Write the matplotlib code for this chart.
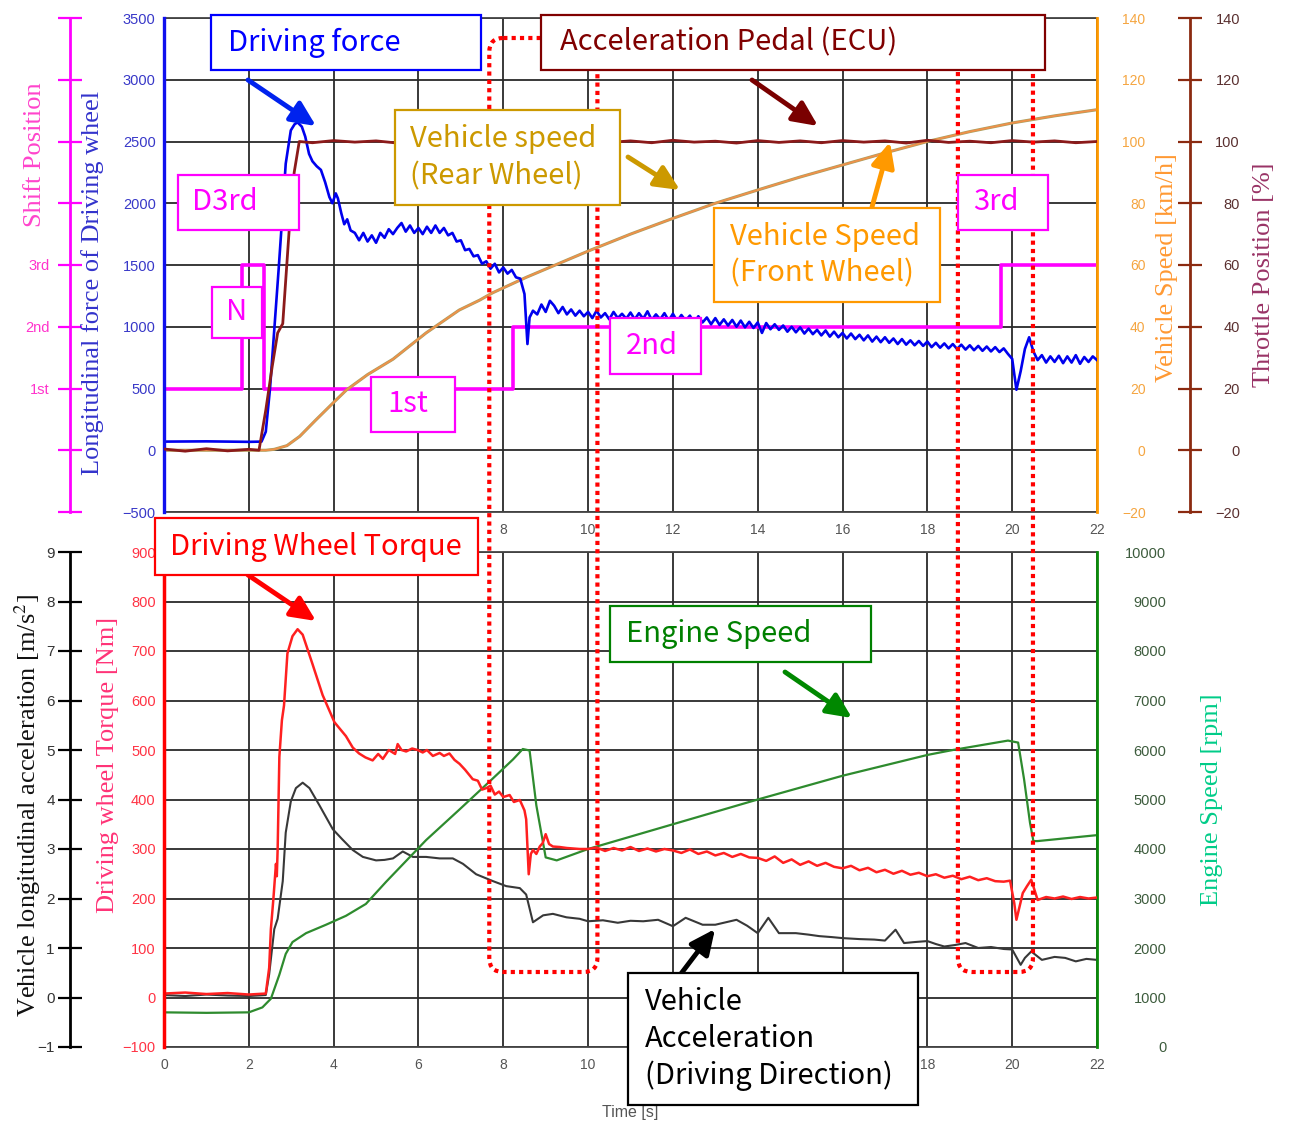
import matplotlib.pyplot as plt
import numpy as np
from matplotlib.patches import Rectangle, FancyBboxPatch, FancyArrowPatch
from matplotlib.transforms import Affine2D

# ---------------- data ----------------
# top panel
shift_time = [0.0, 1.84, 2.36, 8.24, 19.73, 22.0]
shift_gear = [1, 3, 1, 2, 3, 3]          # 1st / 2nd / 3rd (N drawn at 3rd level)

force_time_head = [0.0, 1.0, 2.0, 2.3, 2.4, 2.5, 2.6, 2.7, 2.78, 2.87, 2.99, 3.08, 3.15, 3.25,
                   3.33, 3.42, 3.5, 3.6, 3.7, 3.8, 3.9, 3.97, 4.05, 4.1, 4.18, 4.25, 4.32, 4.4,
                   4.5, 4.6, 4.7, 4.8, 4.9, 5.0, 5.1, 5.2, 5.3, 5.4, 5.5, 5.6, 5.7, 5.8, 5.9,
                   6.0, 6.1, 6.2, 6.3, 6.4, 6.5, 6.6, 6.7, 6.8, 6.9, 7.0, 7.1, 7.2, 7.3, 7.4,
                   7.5, 7.6, 7.7, 7.8, 7.9, 8.0, 8.1, 8.2, 8.3, 8.4, 8.5, 8.57, 8.62, 8.7,
                   8.8, 8.9, 9.0, 9.1]
force_head = [70, 72, 68, 70, 150, 500, 970, 1450, 1850, 2320, 2590, 2640, 2655, 2620,
              2540, 2400, 2340, 2300, 2270, 2170, 2050, 2000, 2080, 2040, 1920, 1830, 1870, 1780,
              1760, 1700, 1760, 1690, 1740, 1680, 1760, 1720, 1790, 1750, 1800, 1840, 1770, 1820, 1760,
              1800, 1750, 1810, 1760, 1820, 1760, 1800, 1740, 1760, 1690, 1700, 1620, 1630, 1570, 1580,
              1510, 1530, 1470, 1510, 1440, 1480, 1430, 1460, 1400, 1390, 1265, 860, 1075, 1130,
              1100, 1180, 1120, 1210]
force_time_tail = np.arange(9.2, 22.01, 0.1)
force_tail = [1170, 1110, 1160, 1100, 1140, 1090, 1130, 1085,
              1120, 1070, 1130, 1075, 1110, 1060, 1120, 1070, 1105, 1065,
              1115, 1060, 1110, 1065, 1125, 1055, 1100, 1060, 1110, 1050,
              1105, 1045, 1095, 1050, 1090, 1030, 1085, 1035, 1075, 1020,
              1070, 1015, 1060, 1010, 1055, 1000, 1050, 995, 1040, 990,
              1035, 950, 1030, 980, 1020, 975, 1010, 960, 1000, 955,
              995, 945, 985, 940, 975, 930, 970, 920, 960, 915,
              950, 905, 945, 900, 935, 890, 930, 880, 920, 875,
              915, 870, 905, 860, 900, 855, 890, 850, 885, 845,
              880, 835, 870, 830, 865, 825, 860, 820, 855, 815,
              850, 810, 845, 805, 840, 800, 835, 795, 825, 780,
              740, 490, 640, 820, 915, 800, 730, 770, 710, 760,
              715, 765, 705, 760, 710, 770, 700, 755, 715, 760,
              730]

throttle_time_head = [0.0, 0.5, 1.0, 1.5, 2.0, 2.24, 2.4, 2.55, 2.68, 2.8, 2.95, 3.07, 3.19]
throttle_head = [0.4, -0.3, 0.5, -0.2, 0.3, 0.0, 13, 27, 38, 41, 71, 90, 100]
throttle_time_tail = np.arange(3.5, 22.01, 0.5)
throttle_tail = [99.6, 100.3, 99.8, 100.2, 99.5, 100.4, 99.7, 100.1, 99.6, 100.3,
                 99.8, 100.2, 99.5, 100.3, 99.7, 100.2, 99.6, 100.4, 99.8, 100.1,
                 99.5, 100.3, 99.7, 100.2, 99.6, 100.3, 99.8, 100.2, 99.5, 100.4,
                 99.7, 100.1, 99.6, 100.3, 99.8, 100.2, 99.6, 100.0]

speed_time = [0, 2.4, 2.6, 2.9, 3.2, 3.58, 4.0, 4.3, 4.8, 5.4, 6.18, 6.96, 7.44, 7.75, 8.54,
              9.33, 10, 11, 12, 13, 14, 15, 16, 17, 18, 19, 20, 21, 22]
vehicle_speed = [0, 0, 0.3, 1.5, 4.5, 9.8, 15.5, 19.5, 24.5, 29.5, 38, 45.4, 48.6, 51, 56,
                 60.6, 64.5, 70, 75.1, 80, 84.3, 88.5, 92.4, 96.3, 100, 103.2, 106, 108.3, 110.3]

# bottom panel
torque_time_head = [0, 0.5, 1.0, 1.5, 2.0, 2.4, 2.48, 2.52, 2.58, 2.64, 2.66, 2.68, 2.72, 2.78, 2.83,
                    2.91, 3.03, 3.15, 3.27, 3.5, 3.74, 4.02, 4.29, 4.45, 4.6, 4.75, 4.92, 5.05, 5.16,
                    5.3, 5.45, 5.51, 5.6, 5.71, 5.85, 5.98, 6.1, 6.2, 6.34, 6.5, 6.6, 6.73, 6.85,
                    6.97, 7.1, 7.28, 7.4, 7.5, 7.6, 7.7, 7.8, 7.9, 8.0, 8.15, 8.25, 8.39, 8.5, 8.54,
                    8.6, 8.65, 8.7, 8.78, 8.86, 8.93, 9.0, 9.08, 9.17, 9.33, 9.5, 9.8]
torque_head = [8, 10, 7, 9, 6, 8, 60, 138, 200, 270, 245, 300, 486, 560, 590,
               695, 730, 744, 733, 674, 611, 556, 528, 505, 493, 485, 479, 492, 482,
               500, 492, 512, 500, 497, 503, 500, 495, 500, 488, 494, 488, 493, 480,
               472, 460, 441, 438, 420, 423, 428, 410, 416, 405, 409, 395, 399, 378, 360,
               249, 290, 298, 290, 305, 312, 330, 310, 305, 304, 302, 300]
torque_time_mid = np.arange(10.0, 19.81, 0.2)
torque_mid = [300, 303, 296, 302, 297, 304, 296, 301, 295, 300,
              297, 292, 299, 290, 295, 287, 292, 284, 290, 283,
              282, 276, 285, 272, 279, 268, 275, 266, 272, 264,
              261, 266, 257, 262, 253, 258, 250, 256, 248, 252,
              245, 249, 242, 246, 239, 244, 237, 241, 235, 234]
torque_time_end = [19.95, 20.05, 20.1, 20.25, 20.35, 20.45, 20.6, 20.8, 21.0, 21.2, 21.4, 21.6, 21.8, 22.0]
torque_end = [236, 190, 157, 211, 225, 238, 197, 203, 200, 204, 199, 203, 200, 202]

accel_time = [0, 0.5, 1.0, 1.5, 2.0, 2.4, 2.48, 2.6, 2.68, 2.8, 2.87, 2.99, 3.11, 3.27, 3.43,
              3.66, 3.98, 4.21, 4.45, 4.69, 5.0, 5.2, 5.4, 5.63, 5.87, 6.18, 6.5, 6.81, 7.05, 7.36,
              7.76, 8.07, 8.39, 8.54, 8.7, 8.94, 9.17, 9.49, 9.8, 10.0, 10.35, 10.7, 11.0, 11.3, 11.65,
              12.0, 12.3, 12.7, 13.0, 13.25, 13.5, 13.75, 14.0, 14.25, 14.5, 14.9, 15.2, 15.45, 15.75, 16.0,
              16.4, 16.75, 17.0, 17.25, 17.45, 17.7, 18.0, 18.2, 18.4, 18.65, 18.9, 19.2, 19.5, 19.8, 20.0,
              20.2, 20.3, 20.45, 20.7, 21.0, 21.25, 21.5, 21.75, 22.0]
accel = [0.05, 0.03, 0.06, 0.04, 0.03, 0.05, 0.47, 1.38, 1.59, 2.35, 3.33, 3.96, 4.23, 4.34, 4.23,
         3.89, 3.4, 3.19, 2.98, 2.84, 2.77, 2.78, 2.81, 2.95, 2.84, 2.84, 2.81, 2.81, 2.7, 2.49,
         2.35, 2.25, 2.21, 2.08, 1.52, 1.66, 1.69, 1.62, 1.59, 1.54, 1.56, 1.51, 1.55, 1.54, 1.57,
         1.44, 1.61, 1.47, 1.47, 1.52, 1.57, 1.45, 1.30, 1.61, 1.30, 1.30, 1.27, 1.24, 1.22, 1.20,
         1.18, 1.17, 1.15, 1.37, 1.10, 1.12, 1.14, 1.08, 1.03, 1.06, 1.10, 1.0, 1.02, 0.98, 0.97,
         0.66, 0.8, 0.93, 0.76, 0.82, 0.8, 0.73, 0.78, 0.76]

engine_time = [0, 1.0, 2.0, 2.32, 2.52, 2.72, 2.87, 3.03, 3.35, 3.82, 4.29, 4.76, 5.24, 5.71, 6.18,
               6.97, 7.76, 8.23, 8.46, 8.62, 8.78, 9.0, 9.26, 10, 12, 14, 16, 18, 18.6, 19.9,
               20.14, 20.28, 20.42, 20.5, 20.6, 22.0]
engine_speed = [700, 690, 700, 800, 975, 1460, 1880, 2120, 2300, 2470, 2650, 2890, 3340, 3760, 4180,
                4800, 5430, 5810, 6020, 5990, 4880, 3830, 3770, 4000, 4500, 5000, 5480, 5900, 6000, 6190,
                6150, 5410, 4530, 4160, 4160, 4280]

# gear shift windows marked with dotted red frames [s]
shift_windows = [(7.67, 10.22), (18.72, 20.49)]

# ---------------- figure ----------------
W, H = 1292, 1122
plt.rcParams['mathtext.fontset'] = 'stix'
fig = plt.figure(figsize=(W / 100, H / 100), dpi=100)
pix = Affine2D().scale(1, -1).translate(0, H)   # pixel coords, origin top-left

TICKF = 'Liberation Sans'
SERIF = 'Liberation Serif'
NOTE = ['Noto Sans CJK JP', 'DejaVu Sans']
PT = 0.72  # px -> pt


def rect(l, t, r, b):
    return [l / W, 1 - b / H, (r - l) / W, (b - t) / H]


def keep_spine(ax, side, color, lw):
    for s in ax.spines.values():
        s.set_visible(False)
    ax.spines[side].set_visible(True)
    ax.spines[side].set_color(color)
    ax.spines[side].set_linewidth(lw)


def right_align(ax):
    for lab in ax.get_yticklabels():
        lab.set_horizontalalignment('right')


def base_axes(r):
    ax = fig.add_axes(r)
    ax.set_xlim(0, 22)
    ax.set_xticks(np.arange(0, 23, 2))
    ax.grid(True, color='#2a2a2a', lw=1.3)
    ax.set_axisbelow(True)
    ax.spines['right'].set_visible(False)
    for s in ('top', 'bottom'):
        ax.spines[s].set_color('#444444')
        ax.spines[s].set_linewidth(1.3)
    ax.tick_params(axis='x', length=0, labelsize=10, labelcolor='#555555', pad=8,
                   labelfontfamily=TICKF)
    return ax


# ----- top panel -----
ax_sh = base_axes(rect(164, 18, 1097, 512))
ax_sh.set_ylim(-1, 7)
ax_sh.set_yticks(np.arange(-1, 8))
ax_sh.set_yticklabels(['', '', '1st', '2nd', '3rd', '', '', '', ''])
ax_sh.spines['left'].set_position(('outward', 94 * PT))
ax_sh.spines['left'].set_color('#FF00FF')
ax_sh.spines['left'].set_linewidth(2)
ax_sh.tick_params(axis='y', direction='inout', length=17, width=1.6, color='#FF00FF',
                  labelcolor='#FF33CC', labelsize=10.5, pad=6, labelfontfamily=TICKF)
ax_sh.step(shift_time, shift_gear, where='post', color='#FF00FF', lw=2.6)

ax_v = ax_sh.twinx()
ax_v.set_ylim(-20, 140)
ax_v.set_yticks(np.arange(-20, 141, 20))
keep_spine(ax_v, 'right', '#FF9900', 2)
ax_v.tick_params(axis='y', length=0, pad=35, labelsize=10, labelcolor='#F5A540',
                 labelfontfamily=TICKF)
right_align(ax_v)
ax_v.plot(speed_time, vehicle_speed, color='#A8A060', lw=2.2)
ax_v.plot(speed_time, vehicle_speed, color='#F0904A', lw=1.3)

ax_f = ax_sh.twinx()
ax_f.yaxis.tick_left()
ax_f.set_ylim(-500, 3500)
ax_f.set_yticks(np.arange(-500, 3501, 500))
keep_spine(ax_f, 'left', '#1010EE', 2.4)
ax_f.tick_params(axis='y', length=0, pad=6, labelsize=10.5, labelcolor='#3838C8',
                 labelfontfamily=TICKF)
ax_f.plot(np.concatenate([force_time_head, force_time_tail]),
          np.concatenate([force_head, force_tail]), color='#0000EE', lw=1.9)

ax_thr = ax_sh.twinx()
ax_thr.set_ylim(-20, 140)
ax_thr.set_yticks(np.arange(-20, 141, 20))
keep_spine(ax_thr, 'right', '#8B2A10', 2)
ax_thr.spines['right'].set_position(('outward', 93 * PT))
ax_thr.tick_params(axis='y', direction='inout', length=17, width=1.6, color='#8B2A10',
                   labelcolor='#5A3030', pad=27.5, labelsize=10.5, labelfontfamily=TICKF)
right_align(ax_thr)
ax_thr.plot(np.concatenate([throttle_time_head, throttle_time_tail]),
            np.concatenate([throttle_head, throttle_tail]), color='#8B1A1A', lw=2)

# ----- bottom panel -----
ax_a = base_axes(rect(164, 552, 1097, 1047))
ax_a.set_ylim(-1, 9)
ax_a.set_yticks(np.arange(-1, 10))
ax_a.spines['left'].set_position(('outward', 94 * PT))
ax_a.spines['left'].set_color('black')
ax_a.spines['left'].set_linewidth(2)
ax_a.tick_params(axis='y', direction='inout', length=17, width=1.6, color='black',
                 labelcolor='#333333', labelsize=11, pad=2.5, labelfontfamily=TICKF)
ax_a.plot(accel_time, accel, color='#383838', lw=1.5)

ax_n = ax_a.twinx()
ax_n.set_ylim(0, 10000)
ax_n.set_yticks(np.arange(0, 10001, 1000))
keep_spine(ax_n, 'right', '#0A8A0A', 2)
ax_n.tick_params(axis='y', length=0, pad=50, labelsize=10.5, labelcolor='#3D5C3D',
                 labelfontfamily=TICKF)
right_align(ax_n)
ax_n.plot(engine_time, engine_speed, color='#2E8B2E', lw=1.6)

ax_t = ax_a.twinx()
ax_t.yaxis.tick_left()
ax_t.set_ylim(-100, 900)
ax_t.set_yticks(np.arange(-100, 901, 100))
keep_spine(ax_t, 'left', '#FF0000', 2.5)
ax_t.tick_params(axis='y', length=0, pad=6, labelsize=10.5, labelcolor='#FF3344',
                 labelfontfamily=TICKF)
ax_t.plot(np.concatenate([torque_time_head, torque_time_mid, torque_time_end]),
          np.concatenate([torque_head, torque_mid, torque_end]), color='#FF2020', lw=1.8)

# ----- axis titles -----
labels = [
    ('Longitudinal force of Driving wheel', 93, 283, '#3333CC'),
    ('Shift Position', 35, 155, '#FF44CC'),
    ('Vehicle longitudinal acceleration [m/s$^2$]', 28, 805, '#111111'),
    ('Driving wheel Torque [Nm]', 108, 765, '#FF3377'),
    ('Vehicle Speed [km/h]', 1167, 268, '#FF9933'),
    ('Throttle Position [%]', 1264, 275, '#993366'),
    ('Engine Speed [rpm]', 1212, 800, '#00CC88'),
]
for s, x, y, c in labels:
    fig.text(x, y, s, transform=pix, rotation=90, ha='center', va='center',
             fontsize=19, color=c, family=SERIF)
fig.text(630, 1112, 'Time [s]', transform=pix, ha='center', va='center',
         fontsize=11.5, color='#555555', family=TICKF)

# ----- dotted frames around the gear shifts -----
for t0, t1 in shift_windows:
    x0 = ax_a.transData.transform((t0, 0))[0]
    x1 = ax_a.transData.transform((t1, 0))[0]
    fig.add_artist(FancyBboxPatch((x0, 38), x1 - x0, 934,
                                  boxstyle='round,pad=0,rounding_size=14', transform=pix,
                                  fill=False, ec='#FF0000', lw=3, ls=(0, (1, 1)), zorder=5))

# ----- arrows -----
arrows = [
    ((248, 80), (316, 126), '#0022EE'),
    ((752, 80), (818, 126), '#7A0000'),
    ((628, 157), (680, 190), '#CC9900'),
    ((872, 207), (890, 142), '#FF9900'),
    ((248, 575), (316, 621), '#FF0000'),
    ((785, 672), (852, 718), '#008800'),
    ((680, 975), (715, 929), '#000000'),
]
for a, b, c in arrows:
    fig.add_artist(FancyArrowPatch(a, b, transform=pix,
                                   arrowstyle='-|>,head_length=0.75,head_width=0.35',
                                   mutation_scale=20, lw=3.5, color=c,
                                   shrinkA=0, shrinkB=0, zorder=11))

# ----- annotation boxes -----
notes = [
    ('Driving force', (211, 15, 481, 70), 228, '#0000FF', 'left'),
    ('Acceleration Pedal (ECU)', (541, 15, 1045, 70), 560, '#800000', 'left'),
    ('Vehicle speed\n(Rear Wheel)', (395, 110, 620, 205), 410, '#CC9900', 'left'),
    ('Vehicle Speed\n(Front Wheel)', (714, 208, 940, 302), 730, '#FF9900', 'left'),
    ('D3rd', (178, 175, 299, 230), 192, '#FF00FF', 'left'),
    ('N', (212, 287, 262, 338), 237, '#FF00FF', 'center'),
    ('1st', (371, 377, 455, 432), 387, '#FF00FF', 'left'),
    ('2nd', (610, 318, 701, 374), 626, '#FF00FF', 'left'),
    ('3rd', (958, 175, 1048, 230), 973, '#FF00FF', 'left'),
    ('Driving Wheel Torque', (155, 518, 478, 575), 170, '#FF0000', 'left'),
    ('Engine Speed', (610, 606, 871, 662), 626, '#008000', 'left'),
    ('Vehicle\nAcceleration\n(Driving Direction)', (628, 973, 918, 1105), 645, '#000000', 'left'),
]
for s, (l, t, r, b), tx, c, ha in notes:
    fig.add_artist(Rectangle((l, t), r - l, b - t, transform=pix, fc='white', ec=c,
                             lw=1.6, zorder=12))
    fig.text(tx, (t + b) / 2, s, transform=pix, ha=ha, va='center', fontsize=21,
             color=c, family=NOTE, linespacing=1.3, zorder=13)

fig.savefig('out.png', dpi=100)
